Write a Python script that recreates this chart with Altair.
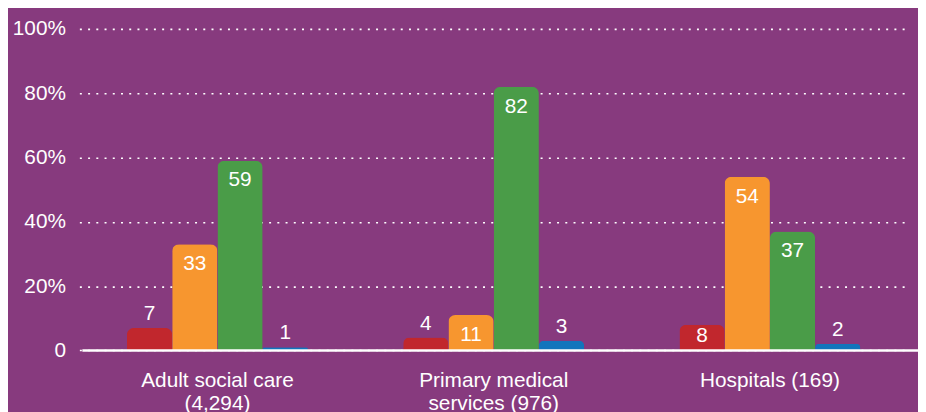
import altair as alt
import pandas as pd

services = ["Adult social care|(4,294)", "Primary medical|services (976)", "Hospitals (169)"]
ratings = ["Inadequate", "Requires improvement", "Good", "Outstanding"]
inadequate = [7, 4, 8]
requires_improvement = [33, 11, 54]
good = [59, 82, 37]
outstanding = [1, 3, 2]
colors = ["#C1272D", "#F7962F", "#4A9C48", "#1275BC"]
y_ticks = [0, 20, 40, 60, 80, 100]

rows = []
for i, s in enumerate(services):
    for r, vals in zip(ratings, [inadequate, requires_improvement, good, outstanding]):
        rows.append({"service": s, "rating": r, "value": vals[i]})
df = pd.DataFrame(rows)

FONT = "Liberation Sans"
BG = "#873A7E"

x = alt.X(
    "service:N", sort=services, title=None,
    scale=alt.Scale(range=[-3, 833], paddingInner=0, paddingOuter=0),
    axis=alt.Axis(labelExpr="split(datum.value, '|')", labelAngle=0, ticks=False,
                  domain=False, labelPadding=19, labelLineHeight=24,
                  labelColor="white", labelFontSize=21, labelFont=FONT,
                  grid=False),
)
y = alt.Y(
    "value:Q", title=None,
    scale=alt.Scale(domain=[0, 100], nice=False),
    axis=alt.Axis(values=y_ticks,
                  labelExpr="datum.value == 0 ? '0' : datum.value + '%'",
                  grid=True, gridDash=[2, 6.3], gridColor="white", gridWidth=1.6,
                  gridOpacity=1, domain=False, ticks=False, labelPadding=17,
                  labelColor="white", labelFontSize=21, labelFont=FONT),
)
xo = alt.XOffset("rating:N", sort=ratings,
                 scale=alt.Scale(range=[48, 230.5], paddingOuter=0, paddingInner=0))

base = alt.Chart(df).encode(x=x, xOffset=xo)

bars = base.mark_bar(cornerRadiusTopLeft=7, cornerRadiusTopRight=7).encode(
    y=y,
    color=alt.Color("rating:N", sort=ratings,
                    scale=alt.Scale(domain=ratings, range=colors), legend=None),
)

inside = base.transform_filter("datum.value >= 8").transform_calculate(
    ly="max(datum.value - 8, 2.6)"
).mark_text(
    baseline="alphabetic", color="white", fontSize=21, font=FONT
).encode(y=alt.Y("ly:Q"), text="value:Q")

above = base.transform_filter("datum.value < 8").mark_text(
    baseline="alphabetic", dy=-8, color="white", fontSize=21, font=FONT
).encode(y=alt.Y("value:Q"), text="value:Q")

zero = alt.Chart(pd.DataFrame({"v": [0]})).mark_rule(
    color="white", strokeWidth=2.5
).encode(y=alt.Y("v:Q"))

chart = alt.layer(bars, zero, inside, above).properties(
    width=843, height=324.4,
    padding={"left": 75, "top": 19.3, "right": 0, "bottom": 60.3},
    autosize="none",
    background=BG,
).configure_view(stroke=None)

chart.save("out.html", embed_options={"renderer": "svg", "actions": False})
